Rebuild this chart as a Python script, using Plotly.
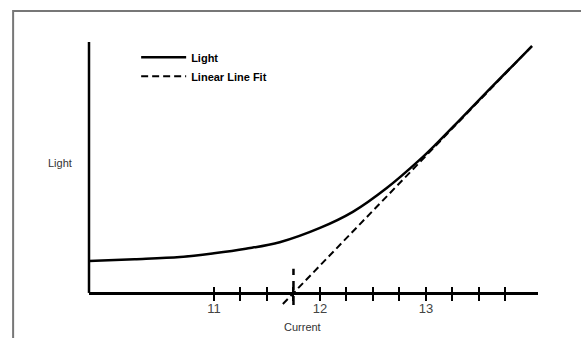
import plotly.graph_objects as go

# ---- data ----
current = [9.82, 10.25, 10.68, 11.0, 11.3, 11.62, 12.0, 12.31, 12.63, 12.94, 13.1, 13.32, 13.6, 14.0]
light = [1.27, 1.34, 1.43, 1.58, 1.76, 2.02, 2.59, 3.23, 4.18, 5.30, 5.95, 6.90, 8.12, 9.84]

fit_current = [11.65, 14.0]
fit_light = [-0.44, 9.84]

threshold_current = [11.75, 11.75]
threshold_light = [-0.48, 0.96]

tick_vals = [11.0, 11.25, 11.5, 11.75, 12.0, 12.25, 12.5, 12.75, 13.0, 13.25, 13.5, 13.75]
tick_text = ["11", "", "", "", "12", "", "", "", "13", "", "", ""]

X_RANGE = [9.821, 14.057]
Y_RANGE = [-0.6, 10.0]
axis_pos = (0 - Y_RANGE[0]) / (Y_RANGE[1] - Y_RANGE[0])

FONT = "Arial, Liberation Sans, sans-serif"

fig = go.Figure()
fig.add_trace(go.Scatter(x=current, y=light, mode="lines", name="Light",
                         line=dict(color="black", width=2.5, shape="spline", smoothing=1.0)))
fig.add_trace(go.Scatter(x=fit_current, y=fit_light, mode="lines", name="Linear Line Fit",
                         line=dict(color="black", width=2, dash="7px,4px")))
fig.add_trace(go.Scatter(x=threshold_current, y=threshold_light, mode="lines", showlegend=False,
                         xaxis="x2", line=dict(color="black", width=2.5, dash="9px,6px")))

fig.update_layout(
    width=581, height=338,
    margin=dict(l=89, r=43, t=42, b=30),
    paper_bgcolor="white", plot_bgcolor="white",
    showlegend=True,
    legend=dict(x=0.105, y=0.997, xanchor="left", yanchor="top",
                bgcolor="rgba(0,0,0,0)", borderwidth=0, itemwidth=45,
                font=dict(family=FONT, size=11, color="black", weight="bold"),
                tracegroupgap=0),
    xaxis=dict(range=X_RANGE, anchor="free", position=axis_pos,
               showline=True, linecolor="black", linewidth=2.5,
               ticks="outside", ticklen=6, tickwidth=2, tickcolor="black",
               tickvals=tick_vals, ticktext=tick_text, ticklabelstandoff=-3,
               tickfont=dict(family=FONT, size=13, color="#444"),
               showgrid=False, zeroline=False),
    xaxis2=dict(range=X_RANGE, matches="x", overlaying="x", anchor="free", position=axis_pos,
                side="bottom", showline=False,
                ticks="inside", ticklen=6, tickwidth=2, tickcolor="black",
                tickvals=tick_vals, showticklabels=False,
                showgrid=False, zeroline=False),
    yaxis=dict(range=Y_RANGE, showline=False, showticklabels=False, ticks="",
               showgrid=False, zeroline=False),
    shapes=[
        dict(type="line", xref="paper", yref="y", x0=0, x1=0, y0=0, y1=10,
             line=dict(color="black", width=2.5)),
        dict(type="rect", xref="paper", yref="paper", x0=-0.169, x1=1.3, y0=-0.3, y1=1.1165,
             line=dict(color="#777", width=2), fillcolor="rgba(0,0,0,0)"),
    ],
    annotations=[
        dict(text="Light", xref="paper", yref="paper", x=-0.0646, y=0.545,
             xanchor="center", yanchor="middle",
             showarrow=False, font=dict(family=FONT, size=11, color="#333")),
        dict(text="Current", xref="paper", yref="paper", x=0.4766, y=-0.0714,
             xanchor="center", yanchor="middle",
             showarrow=False, font=dict(family=FONT, size=11, color="#333")),
    ],
)

fig.write_html("out.html", config={"displayModeBar": False},
               post_script="document.body.style.margin='0';document.body.style.overflow='hidden';")
